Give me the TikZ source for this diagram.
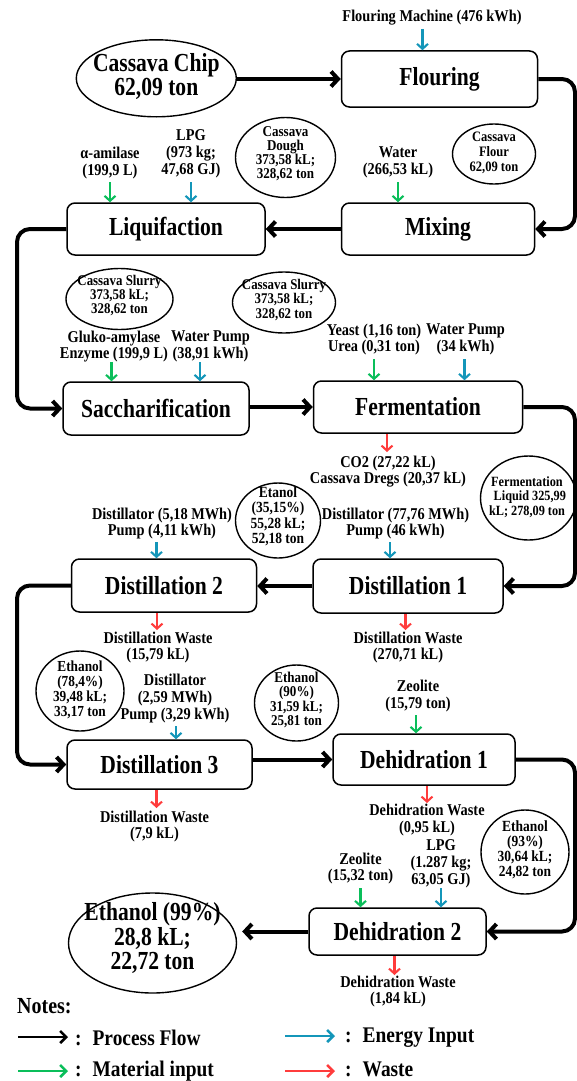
\documentclass[tikz,border=0pt]{standalone}
\usepackage{fontspec}
\setmainfont[FakeStretch=0.87]{Liberation Serif}
\newfontfamily\bigfont[FakeStretch=0.83]{Liberation Serif}
\usetikzlibrary{arrows.meta,shapes.geometric}
\definecolor{ecol}{RGB}{20,150,185}
\definecolor{mcol}{RGB}{10,190,90}
\definecolor{wcol}{RGB}{255,60,60}
\newcommand\fsz[2]{\fontsize{#1}{#2}\selectfont\bfseries}
\newcommand\bsz[2]{\bigfont\fontsize{#1}{#2}\selectfont\bfseries}
\begin{document}
\begin{tikzpicture}[x=1pt,y=-1pt,
 proc/.style={draw,line width=1.5pt,rounded corners=8pt,inner sep=0pt,font=\bsz{26}{26}},
 ellshape/.style={ellipse,draw,line width=1.4pt,inner sep=0pt},
 etxt/.style={align=center,inner sep=0pt},
 lbl/.style={align=center,inner sep=0pt,font=\fsz{16.5}{16.8}},
 flow/.style={line width=4pt,rounded corners=13pt,-{Straight Barb[length=7pt,width=15pt]}},
 small/.style={line width=2.1pt,-{Straight Barb[length=5pt,width=11pt]}},
 ein/.style={small,draw=ecol},
 min/.style={small,draw=mcol},
 wst/.style={small,draw=wcol},
 leg/.style={line width=2.6pt,-{Straight Barb[length=6pt,width=12pt]}},
 legtxt/.style={anchor=west,inner sep=0pt,font=\fsz{22.3}{23}},
]
\useasboundingbox (0,0) rectangle (577,1081);
\coordinate (rx) at (575,0);
\coordinate (lx) at (17,0);

% process boxes
\node[proc,minimum width=196pt,minimum height=56pt] (flour) at (439.5,79) {Flouring};
\node[proc,minimum width=193pt,minimum height=52pt] (mix) at (438,229) {Mixing};
\node[proc,minimum width=198pt,minimum height=52pt] (liq) at (166,229) {Liquifaction};
\node[proc,minimum width=186pt,minimum height=53pt] (sac) at (156,408.5) {Saccharification};
\node[proc,minimum width=209pt,minimum height=52pt] (fer) at (418,407) {Fermentation};
\node[proc,minimum width=190pt,minimum height=54pt] (d1) at (408,586) {Distillation 1};
\node[proc,minimum width=185pt,minimum height=53pt] (d2) at (164,585.5) {Distillation 2};
\node[proc,minimum width=185pt,minimum height=49pt] (d3) at (159.5,764.5) {Distillation 3};
\node[proc,minimum width=182pt,minimum height=51pt] (dh1) at (424,759.5) {Dehidration 1};
\node[proc,minimum width=177pt,minimum height=47pt] (dh2) at (397.5,931.5) {Dehidration 2};

% ellipses
\node[ellshape,minimum width=160pt,minimum height=77pt] (chip) at (156.3,78.3) {};
\node[etxt,font=\bsz{26}{21.6}] (chipt) at (156.3,76.3) {Cassava Chip\\62,09 ton};
\node[ellshape,minimum width=100pt,minimum height=80pt] (dough) at (285.5,157.5) {};
\node[etxt,font=\fsz{15}{14}] (dought) at (285.5,154) {Cassava\\Dough\\373,58 kL;\\328,62 ton};
\node[ellshape,minimum width=83pt,minimum height=60pt] (flourE) at (494,154) {};
\node[etxt,font=\fsz{14.4}{15}] (flourEt) at (494,153) {Cassava\\Flour\\62,09 ton};
\node[ellshape,minimum width=107pt,minimum height=61pt] (sl1) at (119.5,299) {};
\node[etxt,font=\fsz{14.8}{13.8}] (sl1t) at (119.5,295.5) {Cassava Slurry\\373,58 kL;\\328,62 ton};
\node[ellshape,minimum width=103pt,minimum height=61pt] (sl2) at (284,302.5) {};
\node[etxt,font=\fsz{14.8}{14.5}] (sl2t) at (284,300) {Cassava Slurry\\373,58 kL;\\328,62 ton};
\node[ellshape,minimum width=96pt,minimum height=84pt] (fliq) at (528.5,498) {};
\node[etxt,font=\fsz{14.1}{14.5}] (fliqt) at (527,497) {Fermentation\\\hspace*{0.4em}Liquid 325,99\\kL; 278,09 ton};
\node[ellshape,minimum width=85pt,minimum height=75pt] (etan) at (278,520.5) {};
\node[etxt,font=\fsz{15.5}{15.5}] (etant) at (278,516.5) {Etanol\\(35,15\%)\\55,28 kL;\\52,18 ton};
\node[ellshape,minimum width=88pt,minimum height=80pt] (e784) at (80,691) {};
\node[etxt,font=\fsz{15.3}{15}] (e784t) at (80,689.5) {Ethanol\\(78,4\%)\\39,48 kL;\\33,17 ton};
\node[ellshape,minimum width=84pt,minimum height=76pt] (e90) at (296.5,703) {};
\node[etxt,font=\fsz{15}{14.6}] (e90t) at (296.5,700) {Ethanol\\(90\%)\\31,59 kL;\\25,81 ton};
\node[ellshape,minimum width=88pt,minimum height=84pt] (e93) at (525,852) {};
\node[etxt,font=\fsz{15.5}{15}] (e93t) at (525,849.5) {Ethanol\\(93\%)\\30,64 kL;\\24,82 ton};
\node[ellshape,minimum width=168pt,minimum height=100pt] (e99) at (152.5,943) {};
\node[etxt,font=\bsz{26}{23.5}] (e99t) at (152.5,938) {Ethanol (99\%)\\28,8 kL;\\22,72 ton};

% labels
\node[lbl] (fm) at (432,18) {Flouring Machine (476 kWh)};
\node[lbl] (ami) at (110,163) {α-amilase\\(199,9 L)};
\node[lbl] (lpg1) at (191,154) {LPG\\(973 kg;\\47,68 GJ)};
\node[lbl] (wat) at (398,162.5) {Water\\(266,53 kL)};
\node[lbl] (glu) at (114,346.5) {Gluko-amylase\\Enzyme (199,9 L)};
\node[lbl] (wp1) at (210.5,346.5) {Water Pump\\(38,91 kWh)};
\node[lbl] (yea) at (374,339.5) {Yeast (1,16 ton)\\Urea (0,31 ton)};
\node[lbl] (wp2) at (465.5,339.5) {Water Pump\\(34 kWh)};
\node[lbl] (co2) at (388,471.5) {CO2 (27,22 kL)\\Cassava Dregs (20,37 kL)};
\node[lbl] (ds2) at (162,523.5) {Distillator (5,18 MWh)\\Pump (4,11 kWh)};
\node[lbl] (ds1) at (395.5,523.5) {Distillator (77,76 MWh)\\Pump (46 kWh)};
\node[lbl] (dw2) at (158,647.5) {Distillation Waste\\(15,79 kL)};
\node[lbl] (dw1) at (408,647.5) {Distillation Waste\\(270,71 kL)};
\node[lbl] (ds3) at (175,698.5) {Distillator\\(2,59 MWh)\\Pump (3,29 kWh)};
\node[lbl] (zeo1) at (418,696) {Zeolite\\(15,79 ton)};
\node[lbl] (dw3) at (154.5,826.5) {Distillation Waste\\(7,9 kL)};
\node[lbl] (hw1) at (427,820) {Dehidration Waste\\(0,95 kL)};
\node[lbl] (zeo2) at (360.5,868.5) {Zeolite\\(15,32 ton)};
\node[lbl] (lpg2) at (441,863.5) {LPG\\(1.287 kg;\\63,05 GJ)};
\node[lbl] (hw2) at (398,991.5) {Dehidration Waste\\(1,84 kL)};

% process flow
\draw[flow] (chip.east |- flour.west) -- (flour.west);
\draw[flow] (flour.east) -- (flour.east -| rx) -- (mix.east -| rx) -- (mix.east);
\draw[flow] (mix.west) -- (liq.east);
\draw[flow] (liq.west) -- (liq.west -| lx) -- (sac.west -| lx) -- (sac.west);
\draw[flow] (sac.east |- fer.west) -- (fer.west);
\draw[flow] (fer.east) -- (fer.east -| rx) -- (d1.west -| rx) -- (d1.east);
\draw[flow] (d1.west) -- (d1.west -| d2.east);
\draw[flow] (d2.west) -- (d2.west -| lx) -- (d3.west -| lx) -- (d3.west);
\draw[flow] (d3.east |- dh1.west) -- (dh1.west);
\draw[flow] (dh1.east) -- (dh1.east -| rx) -- (dh2.east -| rx) -- (dh2.east);
\coordinate (e99r) at ([xshift=5pt]e99.east);
\draw[flow] (dh2.west) -- (dh2.west -| e99r);

% input arrows (top ends)
\coordinate (a1) at (422.5,29);
\draw[ein] (a1) -- (a1 |- flour.north);
\coordinate (a2) at (110,182);
\draw[min] (a2) -- (a2 |- liq.north);
\coordinate (a3) at (191,182);
\draw[ein] (a3) -- (a3 |- liq.north);
\coordinate (a4) at (398,182);
\draw[min] (a4) -- (a4 |- mix.north);
\coordinate (a5) at (111.5,362);
\draw[min] (a5) -- (a5 |- sac.north);
\coordinate (a6) at (200,362);
\draw[ein] (a6) -- (a6 |- sac.north);
\coordinate (a7) at (374,359);
\draw[min] (a7) -- (a7 |- fer.north);
\coordinate (a8) at (464.5,359);
\draw[ein] (a8) -- (a8 |- fer.north);
\coordinate (a9) at (156.5,542);
\draw[ein] (a9) -- (a9 |- d2.north);
\coordinate (a10) at (390,542);
\draw[ein] (a10) -- (a10 |- d1.north);
\coordinate (a11) at (176,726);
\draw[ein] (a11) -- (a11 |- d3.north);
\coordinate (a12) at (416,715);
\draw[min] (a12) -- (a12 |- dh1.north);
\coordinate (a13) at (360.5,888);
\draw[min] (a13) -- (a13 |- dh2.north);
\coordinate (a14) at (441,888);
\draw[ein] (a14) -- (a14 |- dh2.north);

% waste arrows (bottom ends)
\coordinate (w1) at (387,452);
\draw[wst] (w1 |- fer.south) -- (w1);
\coordinate (w2) at (157,630);
\draw[wst] (w2 |- d2.south) -- (w2);
\coordinate (w3) at (405.5,630);
\draw[wst] (w3 |- d1.south) -- (w3);
\coordinate (w4) at (156.5,808);
\draw[wst] (w4 |- d3.south) -- (w4);
\coordinate (w5) at (427,803);
\draw[wst] (w5 |- dh1.south) -- (w5);
\coordinate (w6) at (394.5,975);
\draw[wst] (w6 |- dh2.south) -- (w6);

% legend
\node[anchor=west,inner sep=0pt,font=\fsz{23}{23}] (notes) at (17,1006) {Notes:};
\coordinate (l1a) at (18,1037); \coordinate (l1b) at (68,1037);
\draw[leg] (l1a) -- (l1b);
\node[legtxt] (t1) at (75,1038) {:\hspace{11pt}Process Flow};
\coordinate (l2a) at (285,1036); \coordinate (l2b) at (335,1036);
\draw[leg,draw=ecol] (l2a) -- (l2b);
\node[legtxt] (t2) at (345,1038) {:\hspace{11pt}Energy Input};
\coordinate (l3a) at (18,1071); \coordinate (l3b) at (68,1071);
\draw[leg,draw=mcol] (l3a) -- (l3b);
\node[legtxt] (t3) at (75,1071) {:\hspace{11pt}Material input};
\coordinate (l4a) at (285,1071); \coordinate (l4b) at (335,1071);
\draw[leg,draw=wcol] (l4a) -- (l4b);
\node[legtxt] (t4) at (345,1069) {:\hspace{11pt}Waste};
\end{tikzpicture}
\end{document}
